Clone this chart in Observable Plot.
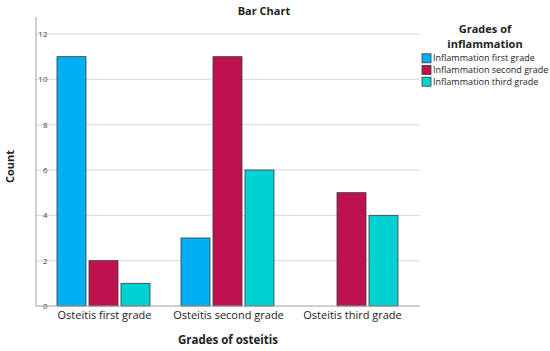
<!DOCTYPE html>
<html>
<head>
<meta charset="utf-8">
<script src="https://cdn.jsdelivr.net/npm/d3@7"></script>
<script src="https://cdn.jsdelivr.net/npm/@observablehq/plot@0.6"></script>
<style>
  html, body { margin: 0; padding: 0; background: white; }
  #chart { width: 550px; height: 351px; position: relative; }
</style>
</head>
<body>
<div id="chart"></div>
<script>
const groups = ["Osteitis first grade", "Osteitis second grade", "Osteitis third grade"];
const series = ["Inflammation first grade", "Inflammation second grade", "Inflammation third grade"];
const firstGradeCounts = [11, 3, 0];
const secondGradeCounts = [2, 11, 5];
const thirdGradeCounts = [1, 6, 4];
const yTicks = [0, 2, 4, 6, 8, 10, 12];
const colors = ["#00aff5", "#be1250", "#00d2d2"];

const seriesValues = [firstGradeCounts, secondGradeCounts, thirdGradeCounts];
const data = [];
groups.forEach((g, gi) => {
  series.forEach((s, si) => {
    const v = seriesValues[si][gi];
    if (v > 0) data.push({group: g, series: s, count: v});
  });
});

const font = "'Open Sans', sans-serif";
const W = 550, H = 351, mL = 36, mR = 130, mT = 17, mB = 45;

const plot = Plot.plot({
  width: W, height: H,
  marginLeft: mL, marginRight: mR, marginTop: mT, marginBottom: mB,
  style: {fontFamily: font, background: "white", color: "#222", overflow: "visible"},
  fx: {domain: groups, paddingInner: 0.227, paddingOuter: 0.159, label: null, axis: null},
  x: {domain: series, paddingInner: 0.08, paddingOuter: 0, axis: null},
  y: {domain: [0, 12.75], axis: null},
  color: {domain: series, range: colors},
  marks: [
    Plot.barY(data, {fx: "group", x: "series", y: "count", fill: "series", stroke: "#3a3a3a", strokeWidth: 0.8}),
    Plot.axisY({ticks: yTicks, tickSize: 0, tickPadding: 9, fontSize: 8, fill: "#444", label: null}),
    Plot.axisFx({anchor: "bottom", tickSize: 0, tickPadding: 5, fontSize: 11, fill: "#222", label: null})
  ]
});

document.getElementById("chart").appendChild(plot);

const y = plot.scale("y");
const color = plot.scale("color");
const svg = d3.select(plot);

// gridlines across the whole frame, drawn beneath the bars
const grid = svg.insert("g", ":first-child");
yTicks.slice(1).forEach(v => {
  grid.append("line")
    .attr("x1", mL).attr("x2", W - mR)
    .attr("y1", y.apply(v)).attr("y2", y.apply(v))
    .attr("stroke", "#dcdcdc");
});
svg.insert("rect", ":first-child").attr("width", W).attr("height", H).attr("fill", "white");

// axis lines
svg.append("line")
  .attr("x1", mL).attr("x2", mL)
  .attr("y1", y.apply(0)).attr("y2", y.apply(12.75))
  .attr("stroke", "#a0a0a0");
svg.append("line")
  .attr("x1", mL).attr("x2", W - mR)
  .attr("y1", y.apply(0)).attr("y2", y.apply(0))
  .attr("stroke", "#a0a0a0");

const t = svg.append("g").attr("font-family", font).attr("fill", "#222");

t.append("text").text("Bar Chart")
  .attr("x", 264).attr("y", 15).attr("text-anchor", "middle")
  .attr("font-weight", "bold").attr("font-size", 11);

t.append("text").text("Count")
  .attr("transform", `translate(14,${(y.apply(0) + y.apply(12.75)) / 2 + 5}) rotate(-90)`)
  .attr("text-anchor", "middle")
  .attr("font-weight", "bold").attr("font-size", 11);

t.append("text").text("Grades of osteitis")
  .attr("x", 228).attr("y", 344).attr("text-anchor", "middle")
  .attr("font-weight", "bold").attr("font-size", 11.5);

const lg = t.append("g");
lg.append("text").text("Grades of")
  .attr("x", 485).attr("y", 33).attr("text-anchor", "middle")
  .attr("font-weight", "bold").attr("font-size", 11);
lg.append("text").text("inflammation")
  .attr("x", 485).attr("y", 48).attr("text-anchor", "middle")
  .attr("font-weight", "bold").attr("font-size", 11);

series.forEach((s, i) => {
  const cy = 58.3 + i * 11.7;
  lg.append("rect")
    .attr("x", 422).attr("y", cy - 4.5).attr("width", 9).attr("height", 9)
    .attr("fill", color.apply(s)).attr("stroke", "#3a3a3a").attr("stroke-width", 0.8);
  lg.append("text").text(s)
    .attr("x", 433).attr("y", cy).attr("dy", "0.35em")
    .attr("text-anchor", "start")
    .attr("font-size", 9);
});
</script>
</body>
</html>
